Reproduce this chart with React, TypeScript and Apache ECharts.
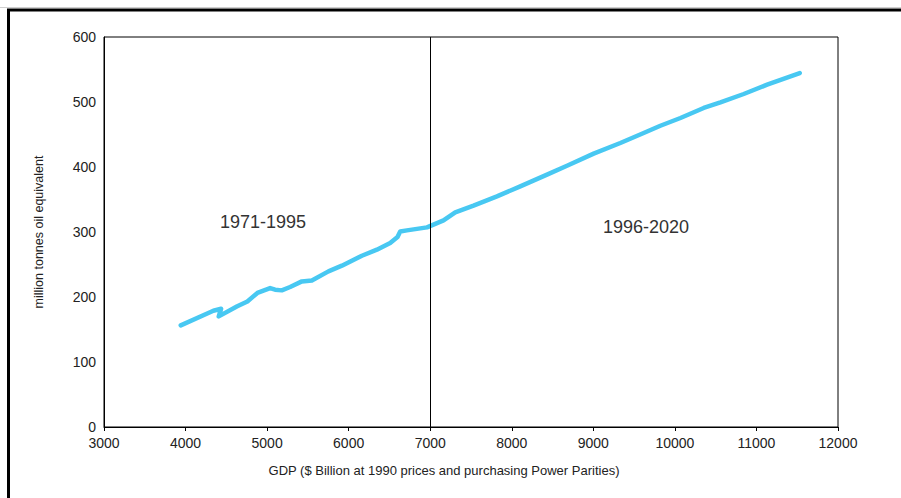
import React, { useEffect, useRef } from "react";
import * as echarts from "echarts";

const periodLabels = ["1971-1995", "1996-2020"];
const gdp1971 = [3941, 4341, 4436, 4407, 4628, 4758, 4881, 5037, 5098, 5180, 5282, 5426, 5549, 5752, 5917, 6162, 6346, 6509, 6599, 6632, 6714, 6960];
const energy1971 = [156.3, 178.9, 181.9, 170.2, 185.5, 193.2, 206.2, 213.8, 211.2, 210.2, 215.4, 224.0, 225.5, 239.4, 248.2, 263.5, 272.8, 283.1, 292.3, 300.9, 302.5, 307.1];
const gdp1996 = [7163, 7307, 7531, 7818, 8104, 8432, 8677, 9004, 9331, 9617, 9822, 10068, 10353, 10558, 10844, 11131, 11531];
const energy1996 = [317.8, 330.2, 340.5, 354.8, 370.2, 388.2, 402.0, 420.5, 436.9, 452.3, 463.5, 475.4, 490.8, 499.4, 512.3, 526.6, 544.6];
const xTicks = { min: 3000, max: 12000, interval: 1000 };
const yTicks = { min: 0, max: 600, interval: 100 };
const dividerGdp = 7000;
const xTitle = "GDP ($ Billion at 1990 prices and purchasing Power Parities)";
const yTitle = "million tonnes oil equivalent";

const FONT = "Liberation Sans";

export default function App() {
  const ref = useRef<HTMLDivElement>(null);
  useEffect(() => {
    if (!ref.current) return;
    const chart = echarts.init(ref.current, undefined, { renderer: "svg" });
    const data: number[][] = [];
    gdp1971.forEach((g, i) => data.push([g, energy1971[i]]));
    gdp1996.forEach((g, i) => data.push([g, energy1996[i]]));
    chart.setOption({
      animation: false,
      backgroundColor: "#fff",
      grid: {
        left: 104,
        right: 63,
        top: 37,
        bottom: 71,
        show: true,
        borderColor: "#000",
        borderWidth: 1,
        backgroundColor: "transparent",
      },
      xAxis: {
        type: "value",
        min: xTicks.min,
        max: xTicks.max,
        interval: xTicks.interval,
        axisLine: { show: true, lineStyle: { color: "#000", width: 1 } },
        axisTick: { show: true, length: 4, lineStyle: { color: "#000" } },
        axisLabel: {
          color: "#222",
          fontSize: 14,
          lineHeight: 14,
          fontFamily: FONT,
          margin: 9,
          formatter: (v: number) => String(v),
        },
        splitLine: { show: false },
      },
      yAxis: {
        type: "value",
        min: yTicks.min,
        max: yTicks.max,
        interval: yTicks.interval,
        axisLine: { show: true, lineStyle: { color: "#000", width: 1 } },
        axisTick: { show: false },
        axisLabel: {
          color: "#222",
          fontSize: 14,
          lineHeight: 14,
          fontFamily: FONT,
          margin: 8,
          formatter: (v: number) => String(v),
        },
        splitLine: { show: false },
        name: yTitle,
        nameLocation: "middle",
        nameGap: 59,
        nameRotate: 90,
        nameTextStyle: { color: "#222", fontSize: 12.5, fontFamily: FONT },
      },
      series: [
        {
          type: "line",
          data,
          showSymbol: false,
          symbol: "none",
          lineStyle: { color: "#48C8F2", width: 4.5, join: "round", cap: "round" },
          markLine: {
            silent: true,
            symbol: "none",
            label: { show: false },
            lineStyle: { color: "#000", width: 1, type: "solid" },
            data: [{ xAxis: dividerGdp }],
          },
        },
      ],
      graphic: [
        {
          type: "rect",
          shape: { x: 8.5, y: 10, width: 1000, height: 700 },
          style: { fill: "none", stroke: "#000", lineWidth: 3 },
          silent: true,
        },
        {
          type: "line",
          shape: { x1: 0, y1: 7.5, x2: 901, y2: 7.5 },
          style: { stroke: "#cfcfcf", lineWidth: 1 },
          silent: true,
        },
        {
          type: "text",
          x: 263,
          y: 222,
          style: {
            text: periodLabels[0],
            fontSize: 18,
            fontFamily: FONT,
            fill: "#333",
            align: "center",
            verticalAlign: "middle",
          },
        },
        {
          type: "text",
          x: 646,
          y: 227,
          style: {
            text: periodLabels[1],
            fontSize: 18,
            fontFamily: FONT,
            fill: "#333",
            align: "center",
            verticalAlign: "middle",
          },
        },
        {
          type: "text",
          x: 444,
          y: 470,
          style: {
            text: xTitle,
            fontSize: 13,
            fontFamily: FONT,
            fill: "#222",
            align: "center",
            verticalAlign: "middle",
          },
        },
      ],
    });
    return () => chart.dispose();
  }, []);
  return (
    <div
      ref={ref}
      style={{ position: "fixed", left: 0, top: 0, width: 901, height: 498, background: "#fff" }}
    />
  );
}
